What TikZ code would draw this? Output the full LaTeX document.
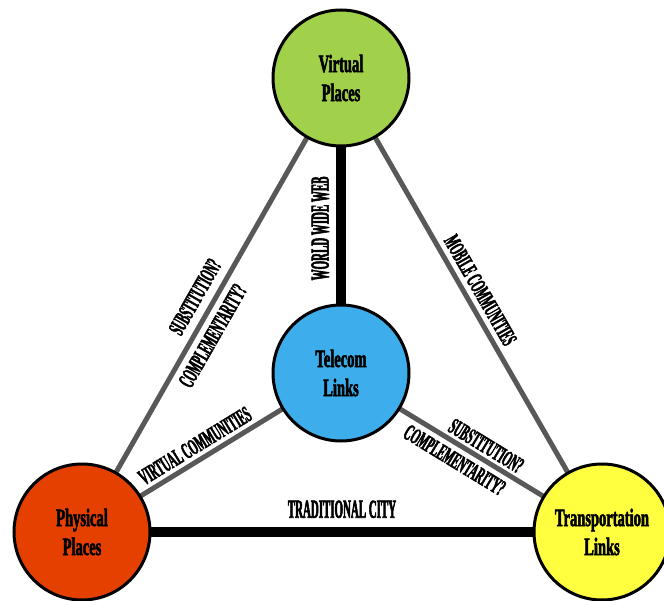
\documentclass[tikz,border=0pt]{standalone}
\usepackage{fontspec}
\usetikzlibrary{backgrounds}
\newfontfamily\nodefont{Liberation Serif}[UprightFont={* Bold}, FakeStretch=0.58, FakeBold=2]
\newfontfamily\edgefont{Liberation Serif}[UprightFont={* Bold}, FakeStretch=0.45, FakeBold=2]
\newfontfamily\bigedgefont{Liberation Serif}[UprightFont={* Bold}, FakeStretch=0.42, FakeBold=2]
\definecolor{virtgreen}{HTML}{A1D04A}
\definecolor{telblue}{HTML}{3DAEEB}
\definecolor{physred}{HTML}{E54000}
\definecolor{transyellow}{HTML}{FFFF40}
\definecolor{linkgray}{HTML}{585858}
\begin{document}
\begin{tikzpicture}[x=1pt,y=-1pt,
  place/.style={circle, draw=black, line width=3pt, minimum size=136pt, inner sep=0pt, align=center,
    font=\nodefont\fontsize{25}{29}\selectfont},
  thinlink/.style={draw=linkgray, line width=5pt},
  thicklink/.style={draw=black, line width=10pt},
  lab/.style={font=\edgefont\fontsize{23}{25}\selectfont, inner sep=1pt, sloped},
  biglab/.style={font=\bigedgefont\fontsize{26}{28}\selectfont, inner sep=1pt, sloped}]
\useasboundingbox (0,0) rectangle (664,601);
\node[place, fill=virtgreen] (virt) at (341,78) {Virtual\\Places};
\node[place, fill=telblue] (tel) at (341,373) {Telecom\\Links};
\node[place, fill=physred] (phys) at (82,532) {Physical\\Places};
\node[place, fill=transyellow] (trans) at (602,532) {Transportation\\Links};
\begin{scope}[on background layer]
  \fill[white] (0,0) rectangle (664,601);
  \draw[thinlink] (phys.center) -- node[lab, pos=0.498, above=7pt] {SUBSTITUTION?}
                                   node[lab, pos=0.45, below=5pt] {COMPLEMENTARITY?} (virt.center);
  \draw[thinlink] (virt.center) -- node[lab, pos=0.484, above=4pt] {MOBILE COMMUNITIES} (trans.center);
  \draw[thinlink] (phys.center) -- node[lab, pos=0.465, above=3pt] {VIRTUAL COMMUNITIES} (tel.center);
  \draw[thinlink] (tel.center) -- node[lab, pos=0.53, above=2pt] {SUBSTITUTION?}
                                  node[lab, pos=0.466, below=4pt] {COMPLEMENTARITY?} (trans.center);
  \draw[thicklink] (tel.center) -- node[biglab, pos=0.49, above=6pt] {WORLD WIDE WEB} (virt.center);
  \draw[thicklink] (phys.center) -- node[biglab, pos=0.5, above=8pt] {TRADITIONAL CITY} (trans.center);
\end{scope}
\end{tikzpicture}
\end{document}
